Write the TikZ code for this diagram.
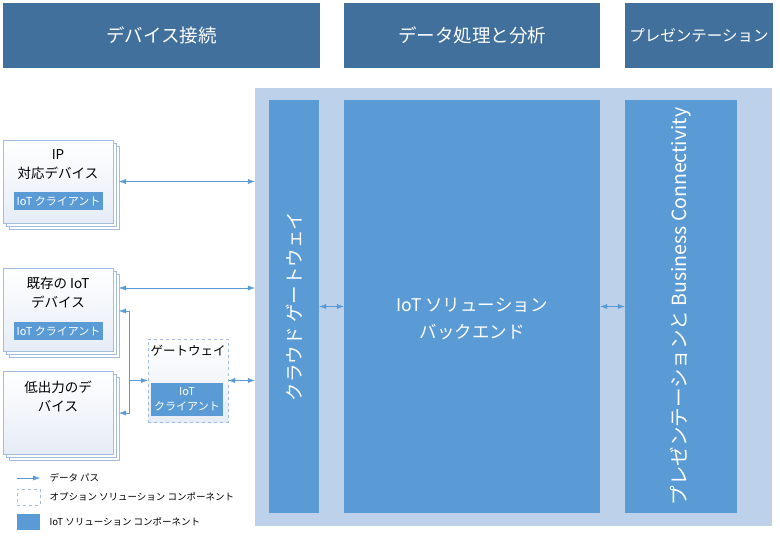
\documentclass[tikz,border=0pt]{standalone}
\usepackage{fontspec}
\setmainfont{Noto Sans CJK JP}
\usetikzlibrary{arrows.meta, shadows}

\definecolor{hdrblue}{HTML}{41709C}
\definecolor{bgblue}{HTML}{BDD1EA}
\definecolor{midblue}{HTML}{5B9BD5}
\definecolor{lineblue}{HTML}{A3BDDD}
\definecolor{devfill}{HTML}{E6ECF6}

\tikzset{
  hdr/.style = {fill=hdrblue, text=white, font=\fontsize{18.5}{22}\selectfont, inner sep=0pt},
  column/.style = {fill=midblue, inner sep=0pt, minimum height=413},
  coltext/.style = {text=white, font=\fontsize{18.5}{22}\selectfont, rotate=90},
  device/.style = {draw=lineblue, top color=white, bottom color=devfill, minimum width=110, minimum height=83,
    double copy shadow={shadow xshift=3pt, shadow yshift=-3pt, fill=white, draw=lineblue}},
  devtext/.style = {font=\fontsize{13.5}{19}\selectfont, align=center},
  client/.style = {fill=midblue, text=white, font=\fontsize{11}{14}\selectfont, align=center, inner sep=0pt},
  flow/.style = {draw=midblue, {Latex[length=7pt,width=5pt]}-{Latex[length=7pt,width=5pt]}},
  flowto/.style = {draw=midblue, -{Latex[length=7pt,width=5pt]}},
  legtext/.style = {font=\fontsize{9.5}{12}\selectfont, anchor=west}
}

\begin{document}
\begin{tikzpicture}[x=1pt, y=-1pt]
\useasboundingbox (0,0) rectangle (780,539);

% headers
\node[hdr, minimum width=317, minimum height=65] (h1) at (161.5,35.5) {デバイス接続};
\node[hdr, minimum width=256, minimum height=65] (h2) at (472,35.5) {データ処理と分析};
\node[hdr, minimum width=148, minimum height=65, font=\fontsize{15.5}{18}\selectfont] (h3) at (699,35.5) {プレゼンテーション};

% cloud side
\node[fill=bgblue, minimum width=517, minimum height=438, inner sep=0pt] (cloud) at (513.5,307) {};
\node[column, minimum width=50] (cg) at (294,306.5) {};
\node[column, minimum width=256] (be) at (472,306.5) {};
\node[column, minimum width=112] (pr) at (681,306.5) {};
\node[coltext] (cgtext) at (cg.center) {クラウド ゲートウェイ};
\node[text=white, font=\fontsize{17.5}{27}\selectfont, align=center] (betext) at (472,319) {IoT ソリューション\\バックエンド};
\node[coltext, font=\fontsize{19.5}{22}\selectfont] (prtext) at (pr.center) {プレゼンテーションと Business Connectivity};

% devices
\node[device] (dev1) at (58,181.5) {};
\node[devtext] (dev1text) at (58,165) {IP\\対応デバイス};
\node[client, minimum width=89, minimum height=18] (cl1) at (58.5,201) {IoT クライアント};

\node[device] (dev2) at (58,309.5) {};
\node[devtext] (dev2text) at (58,293) {既存の IoT\\デバイス};
\node[client, minimum width=89, minimum height=18] (cl2) at (58.5,331) {IoT クライアント};

\node[device] (dev3) at (58,413) {};
\node[devtext] (dev3text) at (58,396) {低出力のデ\\バイス};

% field gateway
\node[draw=lineblue, dashed, top color=white, bottom color=devfill, minimum width=80, minimum height=83] (gw) at (188,380.5) {};
\node[devtext, font=\fontsize{12.5}{15}\selectfont] (gwtext) at (188,351) {ゲートウェイ};
\node[client, minimum width=72, minimum height=33, font=\fontsize{11}{15}\selectfont] (gwcl) at (187,399.5) {IoT\\クライアント};

% data paths
\coordinate (p1) at (119,181.5);
\coordinate (p2) at (119,288);
\coordinate (b2) at (119,311);
\coordinate (b3) at (119,413);
\coordinate (bm) at (129,380.5);
\draw[flow] (p1) -- (p1 -| cloud.west);
\draw[flow] (p2) -- (p2 -| cloud.west);
\draw[flow] (b2) -- ++(10,0) |- (b3);
\draw[flowto] (bm) -- (gw.west);
\draw[flow] (gw.east) -- (gw.east -| cloud.west);
\draw[flow] (cg.east) -- (be.west);
\draw[flow] (be.east) -- (pr.west);

% legend
\coordinate (l1) at (17,478);
\coordinate (l1e) at (40,478);
\draw[flowto] (l1) -- (l1e);
\node[legtext] (leg1) at (46,478) {データ パス};
\node[draw=lineblue, dashed, fill=white, minimum width=23, minimum height=16, inner sep=0pt] (leg2box) at (28.5,497) {};
\node[legtext] (leg2) at (46,497) {オプション ソリューション コンポーネント};
\node[fill=midblue, minimum width=23, minimum height=16, inner sep=0pt] (leg3box) at (28.5,522) {};
\node[legtext] (leg3) at (46,522) {IoT ソリューション コンポーネント};
\end{tikzpicture}
\end{document}
